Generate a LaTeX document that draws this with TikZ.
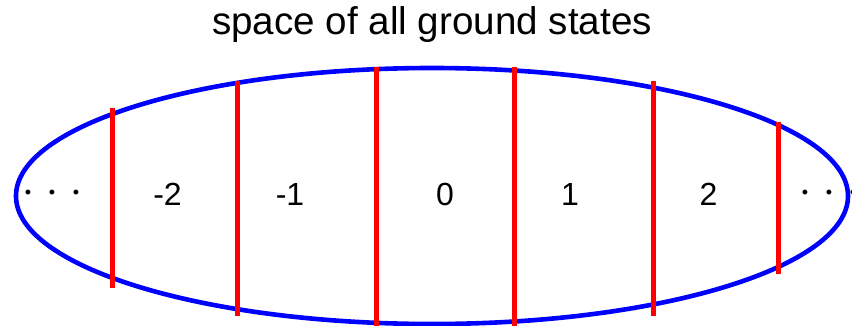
\documentclass[tikz,border=0pt]{standalone}
\usepackage{fontspec}
\setmainfont{Liberation Sans}
\usetikzlibrary{positioning}
\definecolor{gsblue}{RGB}{0,0,255}
\definecolor{gsred}{RGB}{255,0,0}

\begin{document}
\begin{tikzpicture}[x=1pt,y=-1pt,
  rim/.style={line width=4.6pt,color=gsblue},
  wall/.style={line width=5pt,color=gsred},
  num/.style={font=\fontsize{32}{32}\selectfont,anchor=base,inner sep=0pt},
  dots/.style={font=\fontsize{18}{18}\selectfont,anchor=base,inner sep=0pt},
  ttl/.style={font=\fontsize{38.6}{40}\selectfont,anchor=base,inner sep=0pt}]
\useasboundingbox (0,0) rectangle (852,326);
\clip (0,0) rectangle (852,326);
\node[ttl] (title) at (432,35) {space of all ground states};
\draw[rim] (432,196) ellipse [x radius=416, y radius=128];
% walls between the sectors
\draw[wall] (112,108) -- (112,288);
\draw[wall] (237,81) -- (237,316);
\draw[wall] (376,67) -- (376,326);
\draw[wall] (514,67) -- (514,326);
\draw[wall] (653,81) -- (653,316);
\draw[wall] (778,122) -- (778,274);
% sector labels
\node[dots] (ldots) at (52,198.5) {•\hspace{17.7pt}•\hspace{17.7pt}•};
\node[num] (m2) at (167.5,206) {-2};
\node[num] (m1) at (290,206) {-1};
\node[num] (z0) at (445,206) {0};
\node[num] (p1) at (570,206) {1};
\node[num] (p2) at (708.5,206) {2};
\node[dots] (rdots) at (829,198.5) {•\hspace{17.7pt}•\hspace{17.7pt}•};
\end{tikzpicture}
\end{document}
